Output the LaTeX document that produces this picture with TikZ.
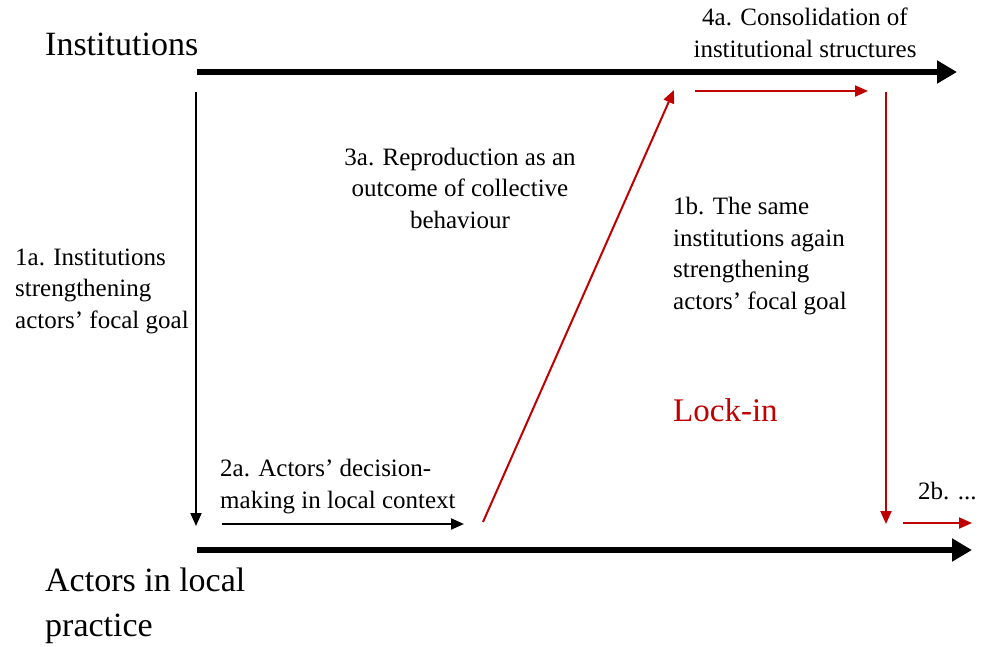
\documentclass[tikz,border=0pt]{standalone}
\usepackage{fontspec}
\setmainfont{Liberation Serif}
\usetikzlibrary{arrows.meta}
\definecolor{lockred}{RGB}{192,0,0}
\tikzset{
  big/.style={line width=6pt,-{Triangle[length=20pt,width=22pt]}},
  thin/.style={line width=2pt,-{Triangle[length=13pt,width=11pt]}},
  lbl/.style={font=\fontsize{25}{31.5}\selectfont, inner sep=0pt},
  title/.style={font=\fontsize{34}{45}\selectfont, inner sep=0pt}
}
\begin{document}
\begin{tikzpicture}[x=1pt,y=-1pt]
\useasboundingbox (0,0) rectangle (983,646);
% endpoints
\coordinate (t1) at (197,72); \coordinate (t2) at (957,72);
\coordinate (b1) at (197,550); \coordinate (b2) at (972,550);
\coordinate (v1) at (196,92); \coordinate (v2) at (196,526);
\coordinate (h1) at (222,524); \coordinate (h2) at (464,524);
\coordinate (d1) at (483,522); \coordinate (d2) at (674,90);
\coordinate (r1) at (695,91); \coordinate (r2) at (868,91);
\coordinate (rv1) at (886,92); \coordinate (rv2) at (886,524);
\coordinate (s1) at (903,523); \coordinate (s2) at (972,523);

\draw[big] (t1) -- (t2);
\draw[big] (b1) -- (b2);
\draw[thin] (v1) -- (v2);
\draw[thin] (h1) -- (h2);
\draw[thin,lockred] (d1) -- (d2);
\draw[thin,lockred] (r1) -- (r2);
\draw[thin,lockred] (rv1) -- (rv2);
\draw[thin,lockred] (s1) -- (s2);

% anchor=base refers to the last line of a multi-line node
\node[title,anchor=base west] (inst) at (45,55) {Institutions};
\node[title,anchor=base west,align=left] (act) at (45,636) {Actors in local\\practice};
\node[lbl,anchor=base,align=center] (l4a) at (805,57) {4a. Consolidation of\\institutional structures};
\node[lbl,anchor=base,align=center] (l3a) at (460,228) {3a. Reproduction as an\\outcome of collective\\behaviour};
\node[lbl,anchor=base west,align=left] (l1b) at (673,309) {1b. The same\\institutions again\\strengthening\\actors’ focal goal};
\node[lbl,anchor=base west,align=left] (l1a) at (15,328) {1a. Institutions\\strengthening\\actors’ focal goal};
\node[font=\fontsize{33}{40}\selectfont,inner sep=0pt,anchor=base west,text=lockred] (lock) at (673,421) {Lock-in};
\node[lbl,anchor=base west,align=left] (l2a) at (220,508) {2a. Actors’ decision-\\making in local context};
\node[lbl,anchor=base west] (l2b) at (918,499) {2b. ...};
\end{tikzpicture}
\end{document}
